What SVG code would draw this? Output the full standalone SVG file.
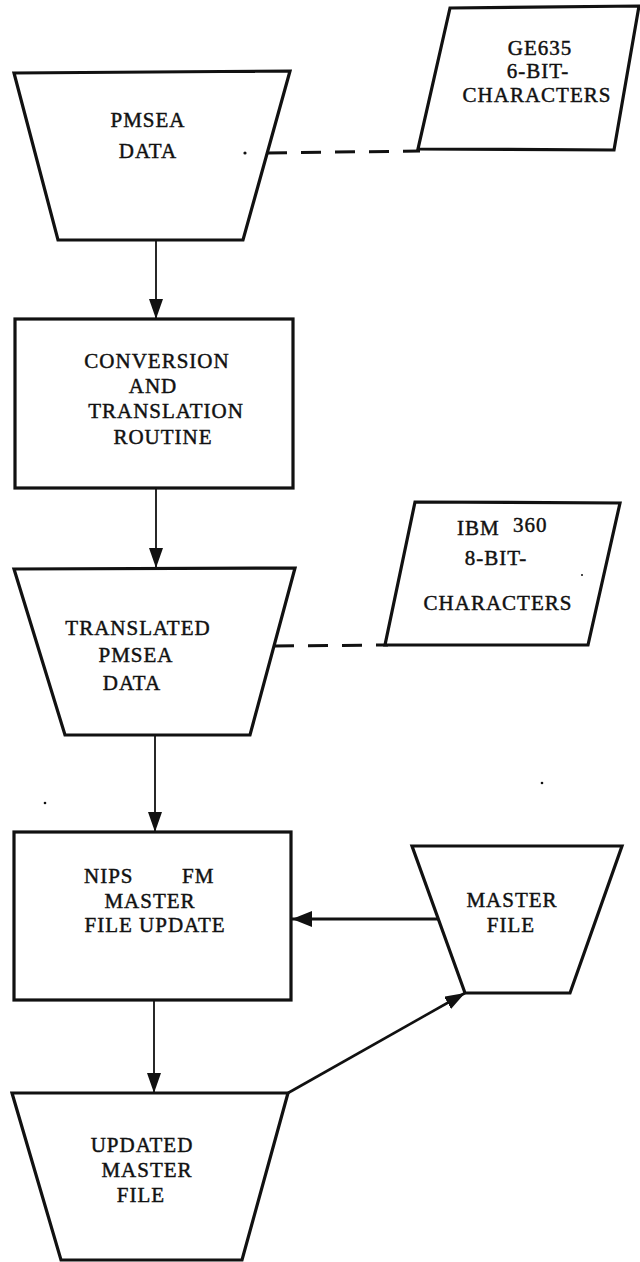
<svg xmlns="http://www.w3.org/2000/svg" width="640" height="1262" viewBox="0 0 640 1262">
<defs>
<style>
.shape{fill:#fff;stroke:#111;stroke-width:3.2;stroke-linejoin:miter}
.lbl{font-family:"Liberation Serif","Times New Roman",serif;font-size:21px;fill:#111;stroke:#111;stroke-width:0.45;text-anchor:middle;letter-spacing:1px}
.lbs{font-family:"Liberation Serif","Times New Roman",serif;font-size:21px;fill:#111;stroke:#111;stroke-width:0.45;letter-spacing:1px}
.flow{stroke:#111;stroke-width:1.8;fill:none}
.thick{stroke:#111;stroke-width:3;fill:none}
.diag{stroke:#111;stroke-width:2.6;fill:none}
.dash{stroke:#111;stroke-width:3;stroke-dasharray:20 14;fill:none}
.speck{fill:#111}
</style>
<marker id="arr" markerUnits="userSpaceOnUse" markerWidth="20" markerHeight="14" refX="20" refY="7" orient="auto">
<path d="M0,0 L20,7 L0,14 Z" fill="#111"/>
</marker>
<marker id="arrB" markerUnits="userSpaceOnUse" markerWidth="20" markerHeight="16" refX="20" refY="8" orient="auto">
<path d="M0,0 L20,8 L0,16 Z" fill="#111"/>
</marker>
</defs>
<rect width="640" height="1262" fill="#fff"/>

<g id="connectors">
<line class="flow" x1="156" y1="240" x2="156" y2="319" marker-end="url(#arr)"/>
<line class="flow" x1="156" y1="488" x2="156" y2="568" marker-end="url(#arr)"/>
<line class="flow" x1="155" y1="735" x2="155" y2="832" marker-end="url(#arr)"/>
<line class="flow" x1="154" y1="1000" x2="154" y2="1093" marker-end="url(#arr)"/>
<line class="thick" x1="438" y1="919" x2="292" y2="919" marker-end="url(#arrB)"/>
<line class="diag" x1="288" y1="1093" x2="465" y2="993" marker-end="url(#arr)"/>
<line class="dash" x1="267" y1="153" x2="420" y2="151"/>
<line class="dash" x1="274" y1="646" x2="388" y2="645"/>
</g>

<g id="ge635">
<polygon class="shape" points="450,8 639,6 614,150 418,149"/>
<text class="lbl" x="540" y="55">GE635</text>
<text class="lbl" x="538" y="78">6-BIT-</text>
<text class="lbl" x="537" y="102">CHARACTERS</text>
</g>

<g id="pmsea">
<polygon class="shape" points="14,73 290,71 243,240 58,240"/>
<text class="lbl" x="148" y="127">PMSEA</text>
<text class="lbl" x="148" y="158">DATA</text>
</g>

<g id="conversion">
<rect class="shape" x="15" y="319" width="278" height="169"/>
<text class="lbl" x="157" y="368">CONVERSION</text>
<text class="lbl" x="153" y="393">AND</text>
<text class="lbl" x="166" y="418">TRANSLATION</text>
<text class="lbl" x="163" y="444">ROUTINE</text>
</g>

<g id="ibm360">
<polygon class="shape" points="415,502 620,503 588,645 385,645"/>
<text class="lbs" x="457" y="535">IBM</text>
<text class="lbs" x="513" y="532">360</text>
<text class="lbl" x="496" y="565">8-BIT-</text>
<text class="lbl" x="498" y="610">CHARACTERS</text>
</g>

<g id="translated">
<polygon class="shape" points="14,569 295,568 250,735 65,735"/>
<text class="lbl" x="138" y="635">TRANSLATED</text>
<text class="lbl" x="136" y="662">PMSEA</text>
<text class="lbl" x="132" y="690">DATA</text>
</g>

<g id="nips">
<rect class="shape" x="14" y="832" width="277" height="168"/>
<text class="lbs" x="84" y="883">NIPS</text>
<text class="lbs" x="182" y="883">FM</text>
<text class="lbl" x="150" y="908">MASTER</text>
<text class="lbl" x="155" y="932">FILE UPDATE</text>
</g>

<g id="masterfile">
<polygon class="shape" points="412,846 622,846 570,993 465,993"/>
<text class="lbl" x="512" y="907">MASTER</text>
<text class="lbl" x="511" y="932">FILE</text>
</g>

<g id="updated">
<polygon class="shape" points="12,1093 288,1093 242,1260 61,1260"/>
<text class="lbl" x="142" y="1152">UPDATED</text>
<text class="lbl" x="147" y="1177">MASTER</text>
<text class="lbl" x="141" y="1202">FILE</text>
</g>

<g id="specks">
<circle class="speck" cx="245" cy="153" r="1.6"/>
<circle class="speck" cx="45" cy="803" r="1.3"/>
<circle class="speck" cx="542" cy="783" r="1.3"/>
<circle class="speck" cx="582" cy="575" r="1"/>
</g>
</svg>
